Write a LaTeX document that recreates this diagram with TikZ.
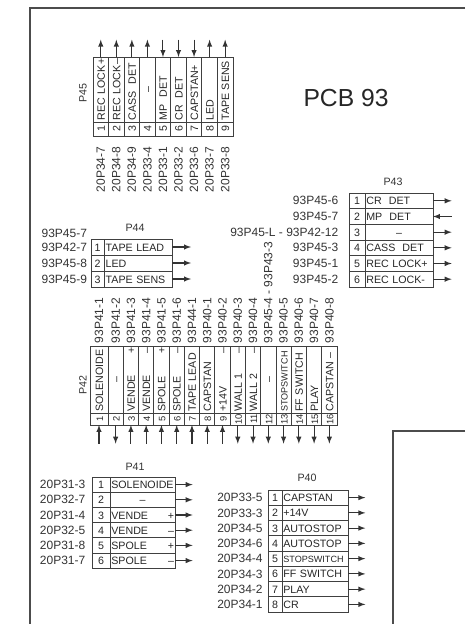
\documentclass[tikz,border=0pt]{standalone}
\usepackage{fontspec}
\setmainfont{Liberation Sans}
\usetikzlibrary{positioning}
\tikzset{
    wire/.style={line width=0.8pt, black!80, -latex},
    frameline/.style={line width=1.5pt, black!70},
    cell/.style={draw=black!75, line width=0.6pt, rectangle, outer sep=0pt, inner ysep=0pt, text=black!85, text height=6pt, text depth=0pt, font=\fontsize{8}{9}\selectfont},
    numcell/.style={cell, inner xsep=0pt, align=center},
    txtcell/.style={cell, inner xsep=1pt, align=left},
    lab/.style={text=black!80, inner sep=0pt, outer sep=0pt, font=\fontsize{9}{10}\selectfont},
    vlab/.style={lab, rotate=90},
    ttl/.style={text=black!80, inner sep=0pt, font=\fontsize{8}{9}\selectfont},
    narrowtxt/.style={font=\fontsize{6.8}{8}\selectfont},
    p45num/.style={numcell, rotate=90, anchor=north west, minimum width=10.5pt, minimum height=11.66pt},
    p45txt/.style={txtcell, rotate=90, anchor=west, text width=46.75pt, minimum height=11.66pt},
    p42num/.style={numcell, rotate=90, anchor=north west, minimum width=9pt, minimum height=11.45pt, font=\fontsize{7}{8}\selectfont},
    p42txt/.style={txtcell, rotate=90, anchor=west, text width=48.25pt, minimum height=11.45pt},
    p43num/.style={numcell, minimum width=12pt, minimum height=11.75pt},
    p43txt/.style={txtcell, text width=49pt, minimum height=11.75pt},
    p44num/.style={numcell, minimum width=10pt, minimum height=12pt},
    p44txt/.style={txtcell, text width=49pt, minimum height=12pt},
    p41num/.style={numcell, minimum width=13.5pt, minimum height=11.4pt},
    p41txt/.style={txtcell, text width=47pt, minimum height=11.4pt},
    p40num/.style={numcell, minimum width=10.5pt, minimum height=11.44pt},
    p40txt/.style={txtcell, text width=47.5pt, minimum height=11.44pt}
}
\begin{document}
\begin{tikzpicture}[x=0.75pt, y=-0.75pt]
    \useasboundingbox (0,0) rectangle (465,624);
    \coordinate (fa) at (465,8);
    \coordinate (fb) at (30,8);
    \coordinate (fc) at (30,624);
    \coordinate (ga) at (465,431);
    \coordinate (gb) at (393,431);
    \coordinate (gc) at (393,624);
    \draw[frameline] (fa) -- (fb) -- (fc);
    \draw[frameline] (ga) -- (gb) -- (gc);

    \node[inner sep=0pt, text=black!85, font=\fontsize{18.5}{20}\selectfont] (pcb) at (346,98) {PCB 93};

    \node[ttl, rotate=90] (p45) at (83,93) {P45};
    \node[p45num] (p45n1) at (93,136) {1};
    \node[p45num] (p45n2) at (p45n1.south west) {2};
    \node[p45num] (p45n3) at (p45n2.south west) {3};
    \node[p45num] (p45n4) at (p45n3.south west) {4};
    \node[p45num] (p45n5) at (p45n4.south west) {5};
    \node[p45num] (p45n6) at (p45n5.south west) {6};
    \node[p45num] (p45n7) at (p45n6.south west) {7};
    \node[p45num] (p45n8) at (p45n7.south west) {8};
    \node[p45num] (p45n9) at (p45n8.south west) {9};
    \node[p45txt] (p45t1) at (p45n1.east) {REC~LOCK\hfill +};
    \node[p45txt] (p45t2) at (p45n2.east) {REC~LOCK\hfill --};
    \node[p45txt] (p45t3) at (p45n3.east) {CASS~~DET};
    \node[p45txt] (p45t4) at (p45n4.east) {\hfill --\hfill\null};
    \node[p45txt] (p45t5) at (p45n5.east) {MP~~DET};
    \node[p45txt] (p45t6) at (p45n6.east) {CR~~DET};
    \node[p45txt] (p45t7) at (p45n7.east) {CAPSTAN+};
    \node[p45txt] (p45t8) at (p45n8.east) {LED};
    \node[p45txt] (p45t9) at (p45n9.east) {TAPE~SENS};
    \node[vlab, anchor=east] (p45l1) at ([yshift=-8pt]p45n1.west) {20P34-7};
    \node[vlab, anchor=east] (p45l2) at ([yshift=-8pt]p45n2.west) {20P34-8};
    \node[vlab, anchor=east] (p45l3) at ([yshift=-8pt]p45n3.west) {20P34-9};
    \node[vlab, anchor=east] (p45l4) at ([yshift=-8pt]p45n4.west) {20P33-4};
    \node[vlab, anchor=east] (p45l5) at ([yshift=-8pt]p45n5.west) {20P33-1};
    \node[vlab, anchor=east] (p45l6) at ([yshift=-8pt]p45n6.west) {20P33-2};
    \node[vlab, anchor=east] (p45l7) at ([yshift=-8pt]p45n7.west) {20P33-6};
    \node[vlab, anchor=east] (p45l8) at ([yshift=-8pt]p45n8.west) {20P33-7};
    \node[vlab, anchor=east] (p45l9) at ([yshift=-8pt]p45n9.west) {20P33-8};
    \coordinate[above=13pt of p45t1.east] (p45e1);
    \coordinate[above=13pt of p45t2.east] (p45e2);
    \coordinate[above=13pt of p45t3.east] (p45e3);
    \coordinate[above=13pt of p45t4.east] (p45e4);
    \coordinate[above=13pt of p45t5.east] (p45e5);
    \coordinate[above=13pt of p45t6.east] (p45e6);
    \coordinate[above=13pt of p45t7.east] (p45e7);
    \coordinate[above=13pt of p45t8.east] (p45e8);
    \coordinate[above=13pt of p45t9.east] (p45e9);
    \draw[wire] (p45t1) to (p45e1);
    \draw[wire] (p45t2) to (p45e2);
    \draw[wire] (p45t3) to (p45e3);
    \draw[wire] (p45t4) to (p45e4);
    \draw[wire] (p45e5) to (p45t5.east);
    \draw[wire] (p45e6) to (p45t6.east);
    \draw[wire] (p45e7) to (p45t7.east);
    \draw[wire] (p45t8) to (p45e8);
    \draw[wire] (p45t9) to (p45e9);

    \node[ttl] (p43) at (393,182) {P43};
    \node[p43num, anchor=north west] (p43n1) at (349,193) {1};
    \node[p43num, below=0mm of p43n1] (p43n2) {2};
    \node[p43num, below=0mm of p43n2] (p43n3) {3};
    \node[p43num, below=0mm of p43n3] (p43n4) {4};
    \node[p43num, below=0mm of p43n4] (p43n5) {5};
    \node[p43num, below=0mm of p43n5] (p43n6) {6};
    \node[p43txt, right=0mm of p43n1] (p43t1) {CR~~DET};
    \node[p43txt, right=0mm of p43n2] (p43t2) {MP~~DET};
    \node[p43txt, right=0mm of p43n3] (p43t3) {\hfill --\hfill\null};
    \node[p43txt, right=0mm of p43n4] (p43t4) {CASS~~DET};
    \node[p43txt, right=0mm of p43n5] (p43t5) {REC~LOCK+};
    \node[p43txt, right=0mm of p43n6] (p43t6) {REC~LOCK-};
    \node[lab, left=8pt of p43n1] (p43l1) {93P45-6};
    \node[lab, left=8pt of p43n2] (p43l2) {93P45-7};
    \node[lab, left=8pt of p43n3] (p43l3) {93P45-L - 93P42-12};
    \node[lab, left=8pt of p43n4] (p43l4) {93P45-3};
    \node[lab, left=8pt of p43n5] (p43l5) {93P45-1};
    \node[lab, left=8pt of p43n6] (p43l6) {93P45-2};
    \coordinate[right=14pt of p43t1] (p43e1);
    \coordinate[right=14pt of p43t2] (p43e2);
    \coordinate[right=14pt of p43t3] (p43e3);
    \coordinate[right=14pt of p43t4] (p43e4);
    \coordinate[right=14pt of p43t5] (p43e5);
    \coordinate[right=14pt of p43t6] (p43e6);
    \draw[wire] (p43t1) to (p43e1);
    \draw[wire] (p43e2) to (p43t2);
    \draw[wire] (p43t3) to (p43e3);
    \draw[wire] (p43t4) to (p43e4);
    \draw[wire] (p43t5) to (p43e5);
    \draw[wire] (p43t6) to (p43e6);

    \node[ttl] (p44) at (135,228) {P44};
    \node[p44num, anchor=north west] (p44n1) at (91,239) {1};
    \node[p44num, below=0mm of p44n1] (p44n2) {2};
    \node[p44num, below=0mm of p44n2] (p44n3) {3};
    \node[p44txt, right=0mm of p44n1] (p44t1) {TAPE~LEAD};
    \node[p44txt, right=0mm of p44n2] (p44t2) {LED};
    \node[p44txt, right=0mm of p44n3] (p44t3) {TAPE~SENS};
    \node[lab, left=3pt of p44n1] (p44l1) {93P42-7};
    \node[lab, left=3pt of p44n2] (p44l2) {93P45-8};
    \node[lab, left=3pt of p44n3] (p44l3) {93P45-9};
    \node[lab, above=4pt of p44l1] (p44l0) {93P45-7};
    \coordinate[right=14pt of p44t1] (p44e1);
    \coordinate[right=14pt of p44t2] (p44e2);
    \coordinate[right=14pt of p44t3] (p44e3);
    \draw[wire] (p44t1) to (p44e1);
    \draw[wire] (p44t2) to (p44e2);
    \draw[wire] (p44t3) to (p44e3);

    \node[ttl, rotate=90] (p42) at (83,385) {P42};
    \node[p42num, minimum height=13.5pt] (p42n1) at (90,425) {1};
    \node[p42num] (p42n2) at (p42n1.south west) {2};
    \node[p42num] (p42n3) at (p42n2.south west) {3};
    \node[p42num] (p42n4) at (p42n3.south west) {4};
    \node[p42num] (p42n5) at (p42n4.south west) {5};
    \node[p42num] (p42n6) at (p42n5.south west) {6};
    \node[p42num] (p42n7) at (p42n6.south west) {7};
    \node[p42num] (p42n8) at (p42n7.south west) {8};
    \node[p42num] (p42n9) at (p42n8.south west) {9};
    \node[p42num] (p42n10) at (p42n9.south west) {10};
    \node[p42num] (p42n11) at (p42n10.south west) {11};
    \node[p42num] (p42n12) at (p42n11.south west) {12};
    \node[p42num] (p42n13) at (p42n12.south west) {13};
    \node[p42num] (p42n14) at (p42n13.south west) {14};
    \node[p42num] (p42n15) at (p42n14.south west) {15};
    \node[p42num] (p42n16) at (p42n15.south west) {16};
    \node[p42txt, minimum height=13.5pt] (p42t1) at (p42n1.east) {SOLENOIDE};
    \node[p42txt] (p42t2) at (p42n2.east) {\hfill --\hfill\null};
    \node[p42txt] (p42t3) at (p42n3.east) {VENDE\hfill +~};
    \node[p42txt] (p42t4) at (p42n4.east) {VENDE\hfill --~};
    \node[p42txt] (p42t5) at (p42n5.east) {SPOLE\hfill +~};
    \node[p42txt] (p42t6) at (p42n6.east) {SPOLE\hfill --~};
    \node[p42txt] (p42t7) at (p42n7.east) {TAPE~LEAD};
    \node[p42txt] (p42t8) at (p42n8.east) {CAPSTAN};
    \node[p42txt] (p42t9) at (p42n9.east) {+14V\hfill --};
    \node[p42txt] (p42t10) at (p42n10.east) {WALL~1\hfill --};
    \node[p42txt] (p42t11) at (p42n11.east) {WALL~2\hfill --};
    \node[p42txt] (p42t12) at (p42n12.east) {\hfill --\hfill\null};
    \node[p42txt, narrowtxt] (p42t13) at (p42n13.east) {STOPSWITCH};
    \node[p42txt] (p42t14) at (p42n14.east) {FF~SWITCH};
    \node[p42txt] (p42t15) at (p42n15.east) {PLAY};
    \node[p42txt] (p42t16) at (p42n16.east) {CAPSTAN~--};
    \node[vlab, anchor=west] (p42l1) at ([yshift=2pt]p42t1.east) {93P41-1};
    \node[vlab, anchor=west] (p42l2) at ([yshift=2pt]p42t2.east) {93P41-2};
    \node[vlab, anchor=west] (p42l3) at ([yshift=2pt]p42t3.east) {93P41-3};
    \node[vlab, anchor=west] (p42l4) at ([yshift=2pt]p42t4.east) {93P41-4};
    \node[vlab, anchor=west] (p42l5) at ([yshift=2pt]p42t5.east) {93P41-5};
    \node[vlab, anchor=west] (p42l6) at ([yshift=2pt]p42t6.east) {93P41-6};
    \node[vlab, anchor=west] (p42l7) at ([yshift=2pt]p42t7.east) {93P44-1};
    \node[vlab, anchor=west] (p42l8) at ([yshift=2pt]p42t8.east) {93P40-1};
    \node[vlab, anchor=west] (p42l9) at ([yshift=2pt]p42t9.east) {93P40-2};
    \node[vlab, anchor=west] (p42l10) at ([yshift=2pt]p42t10.east) {93P40-3};
    \node[vlab, anchor=west] (p42l11) at ([yshift=2pt]p42t11.east) {93P40-4};
    \node[vlab, anchor=west] (p42l12) at ([yshift=2pt]p42t12.east) {93P45-4 - 93P43-3};
    \node[vlab, anchor=west] (p42l13) at ([yshift=2pt]p42t13.east) {93P40-5};
    \node[vlab, anchor=west] (p42l14) at ([yshift=2pt]p42t14.east) {93P40-6};
    \node[vlab, anchor=west] (p42l15) at ([yshift=2pt]p42t15.east) {93P40-7};
    \node[vlab, anchor=west] (p42l16) at ([yshift=2pt]p42t16.east) {93P40-8};
    \coordinate[below=14pt of p42n1.west] (p42e1);
    \coordinate[below=14pt of p42n2.west] (p42e2);
    \coordinate[below=14pt of p42n3.west] (p42e3);
    \coordinate[below=14pt of p42n4.west] (p42e4);
    \coordinate[below=14pt of p42n5.west] (p42e5);
    \coordinate[below=14pt of p42n6.west] (p42e6);
    \coordinate[below=14pt of p42n7.west] (p42e7);
    \coordinate[below=14pt of p42n8.west] (p42e8);
    \coordinate[below=14pt of p42n9.west] (p42e9);
    \coordinate[below=14pt of p42n10.west] (p42e10);
    \coordinate[below=14pt of p42n11.west] (p42e11);
    \coordinate[below=14pt of p42n12.west] (p42e12);
    \coordinate[below=14pt of p42n13.west] (p42e13);
    \coordinate[below=14pt of p42n14.west] (p42e14);
    \coordinate[below=14pt of p42n15.west] (p42e15);
    \coordinate[below=14pt of p42n16.west] (p42e16);
    \draw[wire] (p42e1) to (p42n1);
    \draw[wire] (p42n2) to (p42e2);
    \draw[wire] (p42e3) to (p42n3);
    \draw[wire] (p42e4) to (p42n4);
    \draw[wire] (p42e5) to (p42n5);
    \draw[wire] (p42e6) to (p42n6);
    \draw[wire] (p42e7) to (p42n7);
    \draw[wire] (p42e8) to (p42n8);
    \draw[wire] (p42e9) to (p42n9);
    \draw[wire] (p42n10) to (p42e10);
    \draw[wire] (p42n11) to (p42e11);
    \draw[wire] (p42n12) to (p42e12);
    \draw[wire] (p42n13) to (p42e13);
    \draw[wire] (p42n14) to (p42e14);
    \draw[wire] (p42n15) to (p42e15);
    \draw[wire] (p42n16) to (p42e16);

    \node[ttl] (p41) at (135,467) {P41};
    \node[p41num, anchor=north west] (p41n1) at (92,477) {1};
    \node[p41num, below=0mm of p41n1] (p41n2) {2};
    \node[p41num, below=0mm of p41n2] (p41n3) {3};
    \node[p41num, below=0mm of p41n3] (p41n4) {4};
    \node[p41num, below=0mm of p41n4] (p41n5) {5};
    \node[p41num, below=0mm of p41n5] (p41n6) {6};
    \node[p41txt, right=0mm of p41n1] (p41t1) {SOLENOIDE};
    \node[p41txt, right=0mm of p41n2] (p41t2) {\hfill --\hfill\null};
    \node[p41txt, right=0mm of p41n3] (p41t3) {VENDE\hfill +~};
    \node[p41txt, right=0mm of p41n4] (p41t4) {VENDE\hfill --~};
    \node[p41txt, right=0mm of p41n5] (p41t5) {SPOLE\hfill +~};
    \node[p41txt, right=0mm of p41n6] (p41t6) {SPOLE\hfill --~};
    \node[lab, left=5pt of p41n1] (p41l1) {20P31-3};
    \node[lab, left=5pt of p41n2] (p41l2) {20P32-7};
    \node[lab, left=5pt of p41n3] (p41l3) {20P31-4};
    \node[lab, left=5pt of p41n4] (p41l4) {20P32-5};
    \node[lab, left=5pt of p41n5] (p41l5) {20P31-8};
    \node[lab, left=5pt of p41n6] (p41l6) {20P31-7};
    \coordinate[right=13pt of p41t1] (p41e1);
    \coordinate[right=13pt of p41t2] (p41e2);
    \coordinate[right=13pt of p41t3] (p41e3);
    \coordinate[right=13pt of p41t4] (p41e4);
    \coordinate[right=13pt of p41t5] (p41e5);
    \coordinate[right=13pt of p41t6] (p41e6);
    \draw[wire] (p41t1) to (p41e1);
    \draw[wire] (p41t2) to (p41e2);
    \draw[wire] (p41t3) to (p41e3);
    \draw[wire] (p41t4) to (p41e4);
    \draw[wire] (p41t5) to (p41e5);
    \draw[wire] (p41t6) to (p41e6);

    \node[ttl] (p40) at (307,478) {P40};
    \node[p40num, anchor=north west] (p40n1) at (268,490) {1};
    \node[p40num, below=0mm of p40n1] (p40n2) {2};
    \node[p40num, below=0mm of p40n2] (p40n3) {3};
    \node[p40num, below=0mm of p40n3] (p40n4) {4};
    \node[p40num, below=0mm of p40n4] (p40n5) {5};
    \node[p40num, below=0mm of p40n5] (p40n6) {6};
    \node[p40num, below=0mm of p40n6] (p40n7) {7};
    \node[p40num, below=0mm of p40n7] (p40n8) {8};
    \node[p40txt, right=0mm of p40n1] (p40t1) {CAPSTAN};
    \node[p40txt, right=0mm of p40n2] (p40t2) {+14V};
    \node[p40txt, right=0mm of p40n3] (p40t3) {AUTOSTOP};
    \node[p40txt, right=0mm of p40n4] (p40t4) {AUTOSTOP};
    \node[p40txt, narrowtxt, right=0mm of p40n5] (p40t5) {STOPSWITCH};
    \node[p40txt, right=0mm of p40n6] (p40t6) {FF~SWITCH};
    \node[p40txt, right=0mm of p40n7] (p40t7) {PLAY};
    \node[p40txt, right=0mm of p40n8] (p40t8) {CR};
    \node[lab, left=4pt of p40n1] (p40l1) {20P33-5};
    \node[lab, left=4pt of p40n2] (p40l2) {20P33-3};
    \node[lab, left=4pt of p40n3] (p40l3) {20P34-5};
    \node[lab, left=4pt of p40n4] (p40l4) {20P34-6};
    \node[lab, left=4pt of p40n5] (p40l5) {20P34-4};
    \node[lab, left=4pt of p40n6] (p40l6) {20P34-3};
    \node[lab, left=4pt of p40n7] (p40l7) {20P34-2};
    \node[lab, left=4pt of p40n8] (p40l8) {20P34-1};
    \coordinate[right=13pt of p40t1] (p40e1);
    \coordinate[right=13pt of p40t2] (p40e2);
    \coordinate[right=13pt of p40t3] (p40e3);
    \coordinate[right=13pt of p40t4] (p40e4);
    \coordinate[right=13pt of p40t5] (p40e5);
    \coordinate[right=13pt of p40t6] (p40e6);
    \coordinate[right=13pt of p40t7] (p40e7);
    \coordinate[right=13pt of p40t8] (p40e8);
    \draw[wire] (p40t1) to (p40e1);
    \draw[wire] (p40t2) to (p40e2);
    \draw[wire] (p40t3) to (p40e3);
    \draw[wire] (p40t4) to (p40e4);
    \draw[wire] (p40t5) to (p40e5);
    \draw[wire] (p40t6) to (p40e6);
    \draw[wire] (p40t7) to (p40e7);
    \draw[wire] (p40t8) to (p40e8);
\end{tikzpicture}
\end{document}
